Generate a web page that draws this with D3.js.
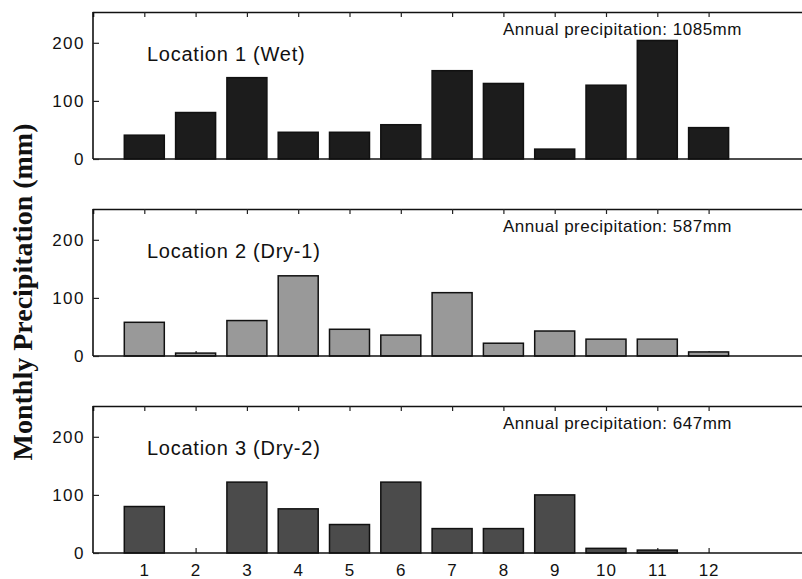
<!DOCTYPE html>
<html>
<head>
<meta charset="utf-8">
<script src="https://cdn.jsdelivr.net/npm/d3@7"></script>
<style>
  body { margin: 0; background: #fff; }
  svg { display: block; }
  .tick text { font-family: Arial, "Liberation Sans", sans-serif; }
</style>
</head>
<body>
<div id="chart"></div>
<script>
// months along the bottom
var months = [1, 2, 3, 4, 5, 6, 7, 8, 9, 10, 11, 12];

// monthly precipitation (mm)
var wet  = [41, 80, 140, 46, 46, 59, 152, 130, 17, 127, 204, 54];
var dry1 = [58, 5, 61, 138, 46, 36, 109, 22, 43, 29, 29, 7];
var dry2 = [80, 0, 122, 76, 49, 122, 42, 42, 100, 8, 5, 0];

var panelNames = ["Location 1 (Wet)", "Location 2 (Dry-1)", "Location 3 (Dry-2)"];
var annualTotals = [1085, 587, 647];
var yTicks = [0, 100, 200];

var width = 802, height = 579;
var margin = {left: 93, right: 0};
// top of frame / zero line for each panel
var panels = [
  {top: 12, bottom: 159, values: wet, fill: "#1c1c1c"},
  {top: 209, bottom: 356, values: dry1, fill: "#999999"},
  {top: 406, bottom: 553, values: dry2, fill: "#4b4b4b"}
];

var svg = d3.select("#chart").append("svg")
  .attr("width", width)
  .attr("height", height);

// x runs 0..14, picture is cut off at the right edge
var x = d3.scaleLinear()
  .domain([0, 14])
  .range([margin.left, margin.left + 14 * 51.3]);
var barW = 40;

panels.forEach(function(p, i) {
  var y = d3.scaleLinear()
    .domain([0, 253])
    .range([p.bottom, p.top]);

  var g = svg.append("g").attr("class", "panel panel" + i);

  // bottom ticks point inward, sit behind the bars
  g.append("g")
    .attr("transform", "translate(0," + p.bottom + ")")
    .call(d3.axisBottom(x).tickValues(months).tickSize(-5)
        .tickFormat(i == 2 ? d3.format("d") : ""))
    .call(function(a) {
      a.select(".domain").remove();
      a.selectAll("line").attr("stroke", "#222").attr("stroke-width", 1.2);
      a.selectAll("text")
        .attr("y", 11)
        .attr("fill", "#111")
        .style("font-size", "17px")
        .style("letter-spacing", "1px");
    });

  g.selectAll(".bar")
    .data(p.values)
    .enter()
      .append("rect")
      .attr("class", "bar")
      .attr("x", function(d, j) { return x(months[j]) - barW / 2; })
      .attr("y", function(d) { return y(d); })
      .attr("width", barW)
      .attr("height", function(d) { return y(0) - y(d); })
      .attr("fill", function(d) { return d > 0 ? p.fill : "none"; })
      .attr("stroke", function(d) { return d > 0 ? "#111" : "none"; })
      .attr("stroke-width", 1.5);

  // top frame line with ticks pointing down
  g.append("g")
    .attr("transform", "translate(0," + p.top + ")")
    .call(d3.axisTop(x).tickValues(months).tickSize(-5).tickFormat(""))
    .call(function(a) {
      a.select(".domain").attr("stroke", "#111").attr("stroke-width", 1.6);
      a.selectAll("line").attr("stroke", "#222").attr("stroke-width", 1.2);
    });

  // zero line
  g.append("line")
    .attr("x1", x(0)).attr("x2", width)
    .attr("y1", p.bottom).attr("y2", p.bottom)
    .attr("stroke", "#111").attr("stroke-width", 1.6);

  // left axis
  g.append("g")
    .attr("transform", "translate(" + x(0) + ",0)")
    .call(d3.axisLeft(y).tickValues(yTicks).tickSize(-6).tickPadding(8))
    .call(function(a) {
      a.select(".domain").attr("stroke", "#111").attr("stroke-width", 1.6)
        .attr("d", "M0," + p.top + "V" + p.bottom);
      a.selectAll("line").attr("stroke", "#222").attr("stroke-width", 1.2);
      a.selectAll("text").attr("fill", "#111")
        .style("font-size", "17px")
        .style("letter-spacing", "1.5px");
    });

  g.append("text")
    .attr("x", 147)
    .attr("y", p.top + 49)
    .style("font-family", "Arial, 'Liberation Sans', sans-serif")
    .style("font-size", "20px")
    .style("letter-spacing", "0.75px")
    .attr("fill", "#111")
    .text(panelNames[i]);

  g.append("text")
    .attr("x", 503)
    .attr("y", p.top + 23)
    .style("font-family", "Arial, 'Liberation Sans', sans-serif")
    .style("font-size", "17px")
    .style("letter-spacing", "0.5px")
    .attr("fill", "#111")
    .text("Annual precipitation: " + annualTotals[i] + "mm");
});

svg.append("text")
  .attr("transform", "translate(32,292) rotate(-90)")
  .style("text-anchor", "middle")
  .style("font-family", "'Liberation Serif', 'Times New Roman', serif")
  .style("font-weight", "bold")
  .style("font-size", "28px")
  .attr("fill", "#111")
  .text("Monthly Precipitation (mm)");
</script>
</body>
</html>
